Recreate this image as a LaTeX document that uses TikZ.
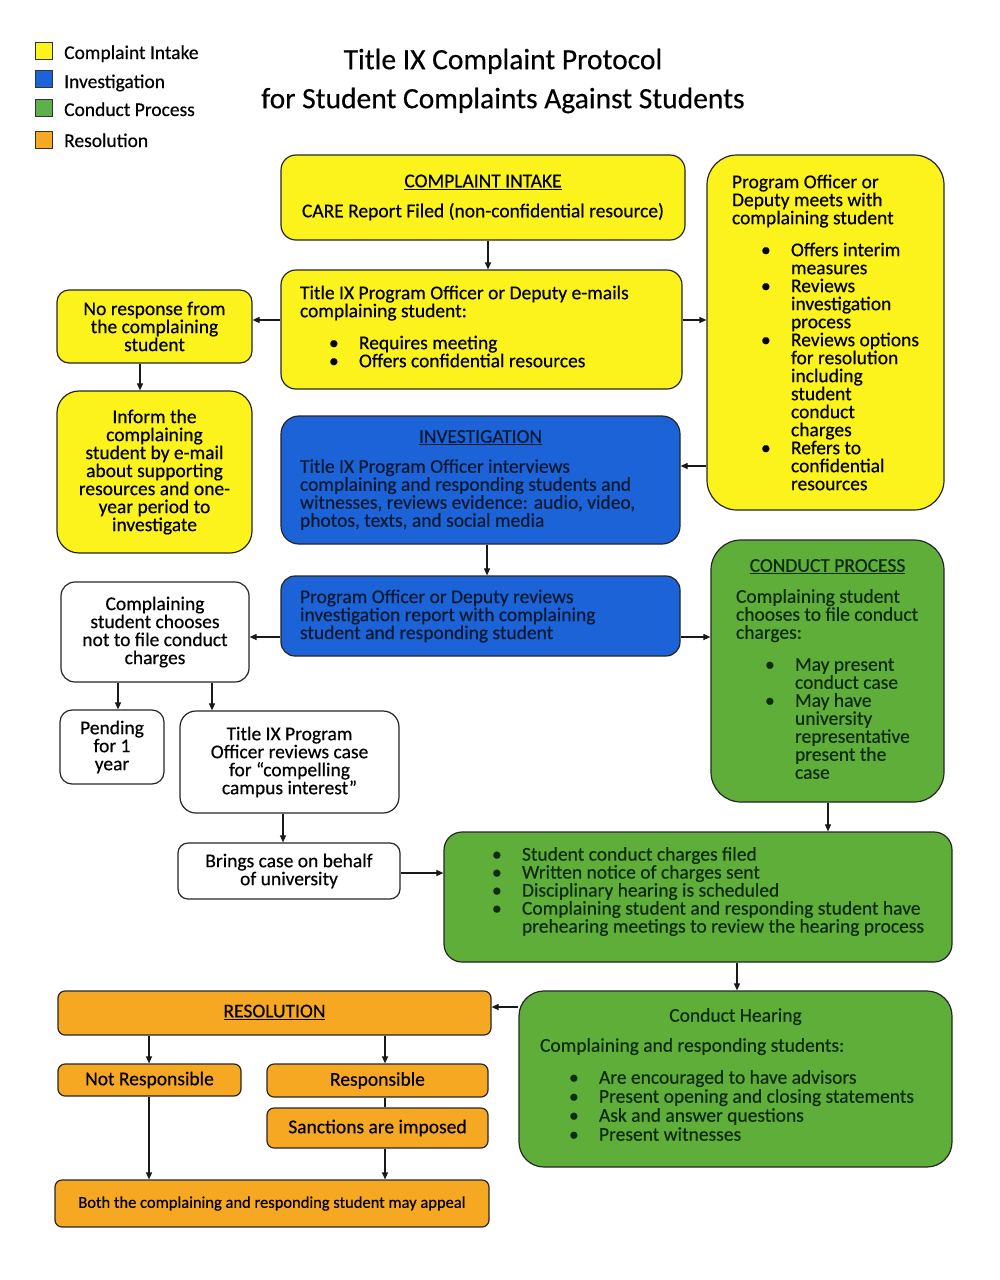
\documentclass[tikz,border=0pt]{standalone}
\usepackage{fontspec}
\setmainfont{Carlito}[FakeBold=0.4]
\usetikzlibrary{arrows.meta}
\definecolor{yfill}{HTML}{FCF31C}
\definecolor{bfill}{HTML}{1B63D6}
\definecolor{gfill}{HTML}{5FAE3A}
\definecolor{ofill}{HTML}{F7A823}
\definecolor{btext}{HTML}{0B1A33}
\definecolor{gtext}{HTML}{0F2B10}
\definecolor{lgreen}{HTML}{5DB04C}
\newcommand\bitem[1]{\hspace*{29pt}\makebox[30pt][l]{\textbullet}#1}
\newcommand\bcont[1]{\hspace*{59pt}#1}
\newcommand\gap[1]{\noalign{\vskip #1}}
\newcommand\lbox[2]{\makebox[#1][l]{\vbox{\halign{##\hfil\cr#2\crcr}}}}
\tikzset{
  box/.style={draw=black!85, line width=1.2pt, rounded corners=12pt, inner ysep=0pt,
    font=\fontsize{19.5}{18}\selectfont, text=black},
  ybox/.style={box, fill=yfill},
  bbox/.style={box, fill=bfill, text=btext},
  gbox/.style={box, fill=gfill, text=gtext},
  obox/.style={box, fill=ofill, rounded corners=7pt},
  wbox/.style={box, fill=white},
  arr/.style={-{Triangle[length=7pt,width=6pt]}, line width=1.1pt, draw=black!90},
  plain/.style={line width=1.1pt, draw=black!90},
  legsq/.style={draw=black!80, line width=1pt, minimum size=17pt, inner sep=0pt},
  legtext/.style={font=\fontsize{19.5}{18}\selectfont, anchor=base west, inner sep=0pt}
}
\begin{document}
\begin{tikzpicture}[x=1pt,y=-1pt]
\useasboundingbox (0,0) rectangle (1000,1280);

% legend
\node[legsq, fill=yfill] (ly) at (44,50.5) {};
\node[legsq, fill=bfill] (lb) at (44,79) {};
\node[legsq, fill=lgreen] (lg) at (44,108) {};
\node[legsq, fill=ofill] (lo) at (44,139.5) {};
\node[legtext] (lyt) at (64,59) {Complaint Intake};
\node[legtext] (lbt) at (64,88) {Investigation};
\node[legtext] (lgt) at (64,116) {Conduct Process};
\node[legtext] (lot) at (64,147) {Resolution};

% title
\node[font=\fontsize{29.5}{39}\selectfont, align=center, inner sep=0pt] (title) at (503,81)
  {Title IX Complaint Protocol\\for Student Complaints Against Students};

% boxes
\node[ybox, minimum width=404pt, minimum height=85pt, align=center, rounded corners=15pt] (intake) at (483,197.5)
  {\underline{COMPLAINT INTAKE}\\[12pt]CARE Report Filed (non-confidential resource)};

\node[ybox, minimum width=401pt, minimum height=119pt, inner xsep=19pt, rounded corners=15pt] (email) at (481.5,329.5)
  {\lbox{363pt}{Title IX Program Officer or Deputy e-mails\cr complaining student:\cr\gap{14pt}\bitem{Requires meeting}\cr\bitem{Offers confidential resources}\cr\gap{6pt}}};

\node[ybox, minimum width=237pt, minimum height=355pt, inner xsep=25pt, rounded corners=30pt] (meets) at (825.5,332.5)
  {\lbox{187pt}{Program Officer or\cr Deputy meets with\cr complaining student\cr\gap{14pt}
  \bitem{Offers interim}\cr\bcont{measures}\cr\bitem{Reviews}\cr\bcont{investigation}\cr\bcont{process}\cr
  \bitem{Reviews options}\cr\bcont{for resolution}\cr\bcont{including}\cr\bcont{student}\cr\bcont{conduct}\cr\bcont{charges}\cr
  \bitem{Refers to}\cr\bcont{confidential}\cr\bcont{resources}}};

\node[ybox, minimum width=195pt, minimum height=73pt, align=center] (noresp) at (154.5,326.5)
  {No response from\\the complaining\\student};

\node[ybox, minimum width=195pt, minimum height=162pt, align=center, rounded corners=22pt] (inform) at (154.5,472)
  {Inform the\\complaining\\student by e-mail\\about supporting\\resources and one-\\year period to\\investigate};

\node[bbox, minimum width=399pt, minimum height=128pt, inner xsep=19pt, rounded corners=18pt] (invest) at (480.5,480)
  {\lbox{361pt}{\makebox[361pt]{\underline{INVESTIGATION}}\cr\gap{12pt}Title IX Program Officer interviews\cr complaining and responding students and\cr witnesses, reviews evidence: audio, video,\cr photos, texts, and social media}};

\node[bbox, minimum width=399pt, minimum height=80pt, inner xsep=19pt, rounded corners=14pt] (review) at (480.5,616)
  {\lbox{361pt}{Program Officer or Deputy reviews\cr investigation report with complaining\cr student and responding student}};

\node[wbox, minimum width=188pt, minimum height=100pt, align=center, rounded corners=14pt] (choose) at (155,632)
  {Complaining\\student chooses\\not to file conduct\\charges};

\node[wbox, minimum width=104pt, minimum height=74pt, align=center] (pending) at (112,747)
  {Pending\\for 1\\year};

\node[wbox, minimum width=219pt, minimum height=102pt, align=center, rounded corners=16pt] (titleix) at (289.5,762)
  {Title IX Program\\Officer reviews case\\for “compelling\\campus interest”};

\node[wbox, minimum width=222pt, minimum height=56pt, align=center, rounded corners=10pt] (brings) at (289,871)
  {Brings case on behalf\\of university};

\node[gbox, minimum width=233pt, minimum height=262pt, inner xsep=25pt, rounded corners=30pt] (conduct) at (827.5,671)
  {\lbox{183pt}{\makebox[183pt]{\underline{CONDUCT PROCESS}}\cr\gap{13pt}Complaining student\cr chooses to file conduct\cr charges:\cr\gap{14pt}
  \bitem{May present}\cr\bcont{conduct case}\cr\bitem{May have}\cr\bcont{university}\cr\bcont{representative}\cr\bcont{present the}\cr\bcont{case}\cr\gap{4pt}}};

\node[gbox, minimum width=508pt, minimum height=130pt, inner xsep=19pt, rounded corners=18pt] (filed) at (698,897)
  {\lbox{470pt}{\bitem{Student conduct charges filed}\cr\bitem{Written notice of charges sent}\cr\bitem{Disciplinary hearing is scheduled}\cr
  \bitem{Complaining student and responding student have}\cr\bcont{prehearing meetings to review the hearing process}\cr\gap{11pt}}};

\node[gbox, minimum width=433pt, minimum height=176pt, inner xsep=21pt, rounded corners=25pt] (hearing) at (735.5,1079)
  {\lbox{391pt}{\makebox[391pt]{Conduct Hearing}\cr\gap{12pt}Complaining and responding students:\cr\gap{14pt}
  \bitem{Are encouraged to have advisors}\cr\gap{1pt}\bitem{Present opening and closing statements}\cr\gap{1pt}
  \bitem{Ask and answer questions}\cr\gap{1pt}\bitem{Present witnesses}\cr\gap{9pt}}};

\node[obox, minimum width=433pt, minimum height=44pt] (resolution) at (274.5,1013)
  {\raisebox{4pt}{\underline{RESOLUTION}}};

\node[obox, minimum width=183pt, minimum height=32pt] (notresp) at (149.5,1080) {Not Responsible};
\node[obox, minimum width=221pt, minimum height=33pt] (resp) at (377.5,1080.5) {Responsible};
\node[obox, minimum width=221pt, minimum height=40pt] (sanctions) at (377.5,1128) {Sanctions are imposed};
\node[obox, minimum width=434pt, minimum height=47pt, font=\fontsize{16.5}{18}\selectfont] (appeal) at (272,1203.5)
  {Both the complaining and responding student may appeal};

% helper coordinates for connector x positions
\coordinate (c488) at (488,0);
\coordinate (c487) at (487,0);
\coordinate (c140) at (140,0);
\coordinate (c118) at (118,0);
\coordinate (c212) at (212,0);
\coordinate (c283) at (283,0);
\coordinate (c828) at (828,0);
\coordinate (c737) at (737,0);
\coordinate (c149) at (149,0);
\coordinate (c385) at (385,0);
\coordinate (y320) at (0,320);
\coordinate (y466) at (0,466);
\coordinate (y637) at (0,637);
\coordinate (y873) at (0,873);
\coordinate (y1007) at (0,1007);

% connectors
\draw[arr] (intake.south -| c488) -- (email.north -| c488);
\draw[arr] (email.west |- y320) -- (noresp.east |- y320);
\draw[arr] (email.east |- y320) -- (meets.west |- y320);
\draw[arr] (noresp.south -| c140) -- (inform.north -| c140);
\draw[arr] (meets.west |- y466) -- (invest.east |- y466);
\draw[arr] (invest.south -| c487) -- (review.north -| c487);
\draw[arr] (review.west |- y637) -- (choose.east |- y637);
\draw[arr] (review.east |- y637) -- (conduct.west |- y637);
\draw[arr] (choose.south -| c118) -- (pending.north -| c118);
\draw[arr] (choose.south -| c212) -- (titleix.north -| c212);
\draw[arr] (titleix.south -| c283) -- (brings.north -| c283);
\draw[arr] (brings.east |- y873) -- (filed.west |- y873);
\draw[arr] (conduct.south -| c828) -- (filed.north -| c828);
\draw[arr] (filed.south -| c737) -- (hearing.north -| c737);
\draw[arr] (hearing.west |- y1007) -- (resolution.east |- y1007);
\draw[arr] (resolution.south -| c149) -- (notresp.north -| c149);
\draw[arr] (resolution.south -| c385) -- (resp.north -| c385);
\draw[plain] (resp.south -| c385) -- (sanctions.north -| c385);
\draw[arr] (notresp.south -| c149) -- (appeal.north -| c149);
\draw[arr] (sanctions.south -| c385) -- (appeal.north -| c385);
\end{tikzpicture}
\end{document}
